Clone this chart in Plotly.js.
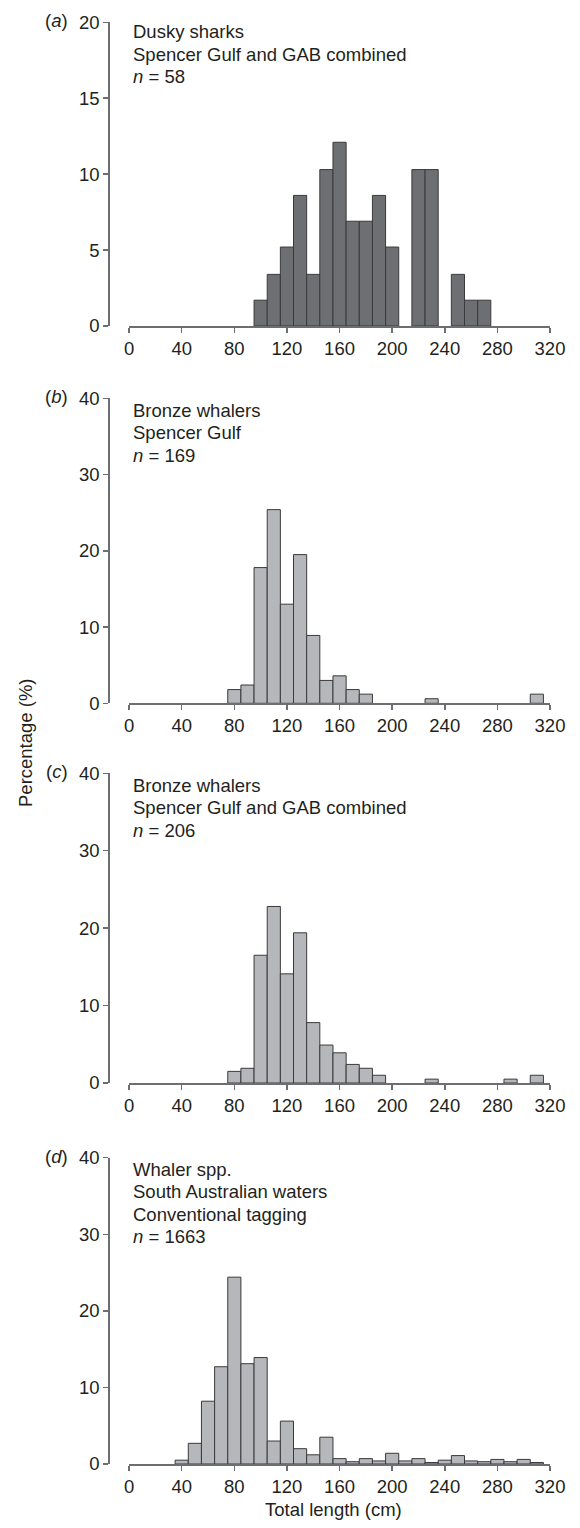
<!DOCTYPE html>
<html>
<head>
<meta charset="utf-8">
<script src="https://cdn.plot.ly/plotly-3.0.1.min.js"></script>
<style>html,body{margin:0;padding:0;background:#fff;}#chart{width:580px;height:1528px;}</style>
</head>
<body>
<div id="chart"></div>
<script>
// ---- data (bin centres in cm, percentage of sample) ----
const xTicks = [0, 40, 80, 120, 160, 200, 240, 280, 320];
const yTicksA = [0, 5, 10, 15, 20];
const yTicksBCD = [0, 10, 20, 30, 40];

const binsA = [100, 110, 120, 130, 140, 150, 160, 170, 180, 190, 200, 220, 230, 250, 260, 270];
const pctA  = [1.7, 3.4, 5.2, 8.6, 3.4, 10.3, 12.1, 6.9, 6.9, 8.6, 5.2, 10.3, 10.3, 3.4, 1.7, 1.7];

const binsB = [80, 90, 100, 110, 120, 130, 140, 150, 160, 170, 180, 230, 310];
const pctB  = [1.8, 2.4, 17.8, 25.4, 13.0, 19.5, 8.9, 3.0, 3.6, 1.8, 1.2, 0.6, 1.2];

const binsC = [80, 90, 100, 110, 120, 130, 140, 150, 160, 170, 180, 190, 230, 290, 310];
const pctC  = [1.5, 1.9, 16.5, 22.8, 14.1, 19.4, 7.8, 4.9, 3.9, 2.4, 1.9, 1.0, 0.5, 0.5, 1.0];

const binsD = [40, 50, 60, 70, 80, 90, 100, 110, 120, 130, 140, 150, 160, 170, 180, 190, 200, 210, 220, 230, 240, 250, 260, 270, 280, 290, 300, 310];
const pctD  = [0.5, 2.7, 8.2, 12.7, 24.4, 13.1, 13.9, 3.0, 5.6, 2.0, 1.2, 3.5, 0.7, 0.3, 0.7, 0.4, 1.4, 0.4, 0.7, 0.2, 0.5, 1.1, 0.4, 0.3, 0.6, 0.3, 0.6, 0.2];

const panelLabels = ['a', 'b', 'c', 'd'];
const panelTexts = [
  ['Dusky sharks', 'Spencer Gulf and GAB combined', '<i>n</i> = 58'],
  ['Bronze whalers', 'Spencer Gulf', '<i>n</i> = 169'],
  ['Bronze whalers', 'Spencer Gulf and GAB combined', '<i>n</i> = 206'],
  ['Whaler spp.', 'South Australian waters', 'Conventional tagging', '<i>n</i> = 1663']
];
const yTitle = 'Percentage (%)';
const xTitle = 'Total length (cm)';

// ---- layout geometry (pixels) ----
const W = 580, H = 1528;
const FONT = 'Liberation Sans, Arial, Helvetica, sans-serif';
const FS = 18.5;
const TXT = '#231f20';
const AXC = '#6d6e71';
const xDom = [129.1 / W, 550 / W];
const yPos = 108.3 / W;
const panelPx = [[22.3, 326], [398.3, 703.3], [773.3, 1083], [1157.7, 1464]];
const firstLinePx = [31.5, 410, 785, 1169];
const lineGap = 22.5;

const binSets = [binsA, binsB, binsC, binsD];
const pctSets = [pctA, pctB, pctC, pctD];
const fills = ['#6e6f73', '#b5b7ba', '#b5b7ba', '#b5b7ba'];
const yTickSets = [yTicksA, yTicksBCD, yTicksBCD, yTicksBCD];

const data = [];
const layout = {
  width: W, height: H,
  margin: {l: 0, r: 0, t: 0, b: 0},
  paper_bgcolor: '#fff', plot_bgcolor: 'rgba(0,0,0,0)',
  showlegend: false,
  bargap: 0,
  font: {family: FONT, size: FS, color: TXT},
  annotations: []
};

for (let i = 0; i < 4; i++) {
  const sfx = i === 0 ? '' : String(i + 1);
  data.push({
    type: 'bar',
    x: binSets[i], y: pctSets[i],
    width: 10,
    xaxis: 'x' + sfx, yaxis: 'y' + sfx,
    marker: {color: fills[i], line: {color: '#3a3a3c', width: 1}},
    hoverinfo: 'x+y'
  });
  const [topPx, botPx] = panelPx[i];
  const yTicks = yTickSets[i];
  layout['xaxis' + sfx] = {
    domain: xDom, range: [xTicks[0], xTicks[xTicks.length - 1]],
    anchor: 'y' + sfx,
    tickmode: 'array', tickvals: xTicks, ticktext: xTicks.map(String),
    ticks: 'outside', ticklen: 5, tickwidth: 1.5, tickcolor: AXC,
    showline: true, linecolor: AXC, linewidth: 1.5,
    showgrid: false, zeroline: false,
    tickfont: {family: FONT, size: FS, color: TXT},
    fixedrange: true
  };
  layout['yaxis' + sfx] = {
    domain: [(H - botPx) / H, (H - topPx) / H],
    range: [yTicks[0], yTicks[yTicks.length - 1]],
    anchor: 'free', position: yPos,
    tickmode: 'array', tickvals: yTicks, ticktext: yTicks.map(String),
    ticks: 'outside', ticklen: 5, tickwidth: 1.5, tickcolor: AXC,
    showline: true, linecolor: AXC, linewidth: 1.5,
    showgrid: false, zeroline: false,
    tickfont: {family: FONT, size: FS, color: TXT},
    fixedrange: true
  };
  // panel label
  layout.annotations.push({
    xref: 'paper', yref: 'paper', x: 70 / W, y: (H - (topPx - 1.5)) / H,
    xanchor: 'right', yanchor: 'middle', showarrow: false,
    text: '(<i>' + panelLabels[i] + '</i>)',
    font: {family: FONT, size: FS, color: TXT}
  });
  // descriptive text lines
  panelTexts[i].forEach((t, k) => {
    layout.annotations.push({
      xref: 'paper', yref: 'paper', x: 131 / W, y: (H - (firstLinePx[i] + k * lineGap)) / H,
      xanchor: 'left', yanchor: 'middle', showarrow: false,
      text: t, font: {family: FONT, size: FS, color: TXT}
    });
  });
}

// x title (bottom) and shared y title
layout.annotations.push({
  xref: 'paper', yref: 'paper', x: 333 / W, y: (H - 1509) / H,
  xanchor: 'center', yanchor: 'middle', showarrow: false,
  text: xTitle, font: {family: FONT, size: FS, color: TXT}
});
layout.annotations.push({
  xref: 'paper', yref: 'paper', x: 25 / W, y: (H - 743) / H,
  xanchor: 'center', yanchor: 'middle', showarrow: false, textangle: -90,
  text: yTitle, font: {family: FONT, size: FS, color: TXT}
});

Plotly.newPlot('chart', data, layout, {displayModeBar: false, staticPlot: true});
</script>
</body>
</html>
